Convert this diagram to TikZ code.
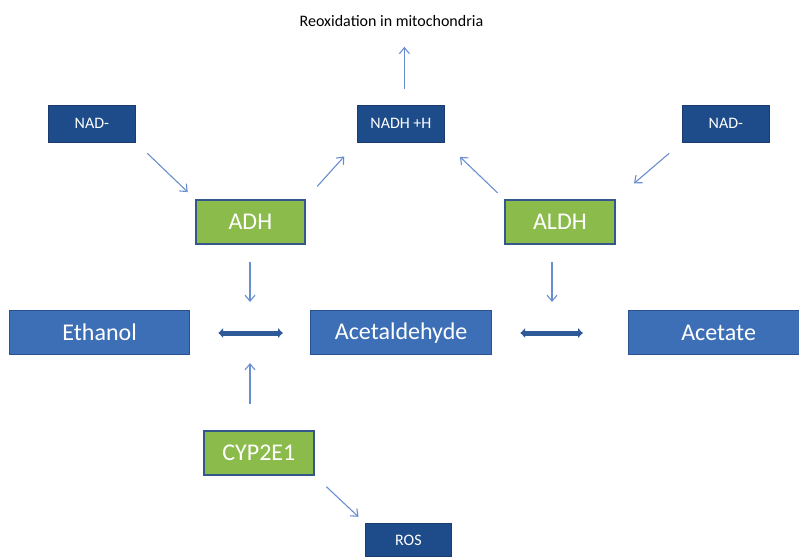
\documentclass[tikz,border=0pt]{standalone}
\usepackage{fontspec}
\setmainfont{Carlito}
\usetikzlibrary{arrows.meta}
\definecolor{navy}{HTML}{1E4C8A}
\definecolor{midblue}{HTML}{3D6FB6}
\definecolor{midborder}{HTML}{2A5290}
\definecolor{leaf}{HTML}{8BBC4B}
\definecolor{leafborder}{HTML}{34588C}
\definecolor{thin}{HTML}{6A8FD0}
\definecolor{thick}{HTML}{2E5A9A}
\tikzset{
  x=1pt, y=-1pt,
  darkbox/.style={fill=navy, draw=navy!80!black, line width=0.8pt, text=white, font=\fontsize{16}{19}\selectfont, anchor=north west, inner sep=0pt},
  bluebox/.style={fill=midblue, draw=midborder, line width=1.2pt, text=white, font=\fontsize{24}{28}\selectfont, anchor=north west, inner sep=0pt},
  greenbox/.style={fill=leaf, draw=leafborder, line width=1.8pt, text=white, font=\fontsize{24}{28}\selectfont, anchor=north west, inner sep=0pt},
  thinarrow/.style={draw=thin, line width=1.1pt, -{Straight Barb[length=6pt,width=10pt]}},
  thickarrow/.style={draw=thick, line width=5pt, {Latex[length=5pt,width=11pt]}-{Latex[length=5pt,width=11pt]}},
}
\begin{document}
\begin{tikzpicture}
\useasboundingbox[fill=white] (0,0) rectangle (799,557);
% text
\node[font=\fontsize{16}{19}\selectfont, text=black, inner sep=2pt] (reox) at (391.5,21) {Reoxidation in mitochondria};
% dark boxes
\node[darkbox, minimum width=87pt, minimum height=37pt] (nadl) at (48,104.5) {NAD-};
\node[darkbox, minimum width=87pt, minimum height=37pt] (nadh) at (357,104.5) {NADH +H};
\node[darkbox, minimum width=87pt, minimum height=37pt] (nadr) at (682,104.5) {NAD-};
\node[darkbox, minimum width=86pt, minimum height=33pt] (ros) at (365,523) {ROS};
% green boxes
\node[greenbox, minimum width=109pt, minimum height=44pt] (adh) at (195,199) {ADH};
\node[greenbox, minimum width=110pt, minimum height=44pt] (aldh) at (504,199) {ALDH};
\node[greenbox, minimum width=110pt, minimum height=44pt] (cyp) at (203,430) {CYP2E1};
% blue boxes
\node[bluebox, minimum width=180pt, minimum height=44pt] (eth) at (9,310) {Ethanol};
\node[bluebox, minimum width=181pt, minimum height=44pt] (acal) at (310,310) {Acetaldehyde};
\node[bluebox, minimum width=180pt, minimum height=44pt] (acet) at (628,310) {Acetate};
% reaction points
\coordinate (r1) at (250,333);
\coordinate (r2) at (552,333);
% double arrows
\draw[thickarrow, shorten <=28pt, shorten >=27pt] (eth.east |- r1) -- (acal.west |- r1);
\draw[thickarrow, shorten <=28pt, shorten >=45pt] (acal.east |- r2) -- (acet.west |- r2);
% thin arrows
\draw[thinarrow, shorten <=16pt, shorten >=10pt] (nadl.south east) -- (adh.north west);
\draw[thinarrow, shorten <=17pt, shorten >=19pt] (adh.north east) -- (nadh.south west);
\draw[thinarrow, shorten <=16pt, shorten >=18pt] ([xshift=3.5pt]nadh.north) -- ([xshift=3.5pt]nadh.north |- reox.south);
\draw[thinarrow, shorten <=9pt, shorten >=21pt] (aldh.north west) -- (nadh.south east);
\draw[thinarrow, shorten <=17pt, shorten >=24pt] (nadr.south west) -- (aldh.north east);
\draw[thinarrow, shorten <=17pt, shorten >=31pt] (adh.south -| r1) -- (r1);
\draw[thinarrow, shorten <=17pt, shorten >=31pt] (aldh.south -| r2) -- (r2);
\draw[thinarrow, shorten <=26pt, shorten >=30pt] (cyp.north -| r1) -- (r1);
\draw[thinarrow, shorten <=16pt, shorten >=9pt] (cyp.south east) -- (ros.north west);
\end{tikzpicture}
\end{document}
